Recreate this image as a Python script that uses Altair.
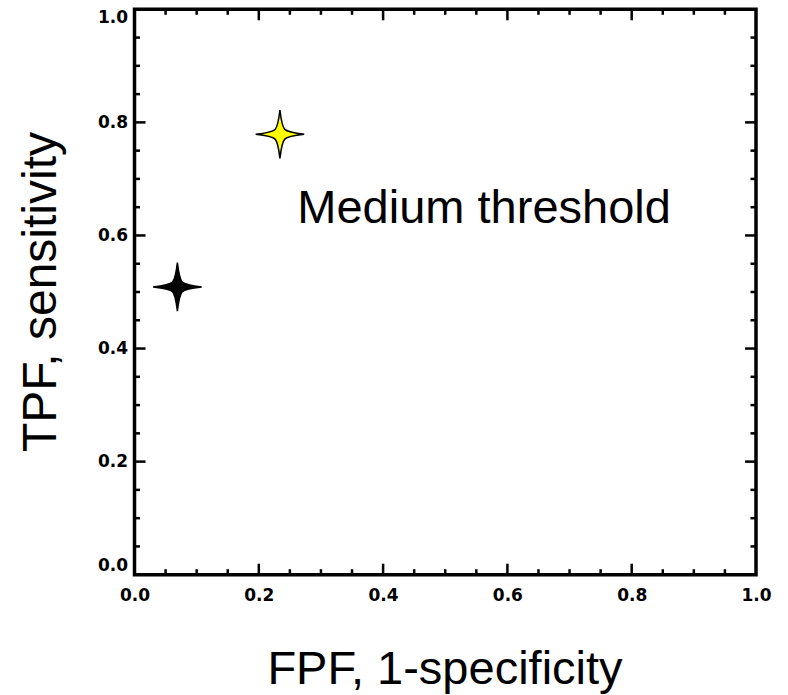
import altair as alt
import pandas as pd

# ---- data ----
fpf = [0.069, 0.234]
tpf = [0.509, 0.779]
groups = ["low", "medium"]
star_colors = ["black", "#ffff00"]

label_text = ["Medium threshold"]
label_x = [0.262]
label_y = [0.6215]

major_ticks = [0.0, 0.2, 0.4, 0.6, 0.8, 1.0]
minor_ticks = [0.05, 0.1, 0.15, 0.25, 0.3, 0.35, 0.45, 0.5, 0.55,
               0.65, 0.7, 0.75, 0.85, 0.9, 0.95]

W, H = 621.5, 565.4
MAJ, MIN = 11, 5.5

pts = pd.DataFrame({"fpf": fpf, "tpf": tpf, "g": groups})
lab = pd.DataFrame({"fpf": label_x, "tpf": label_y, "t": label_text})
maj = pd.DataFrame({"fpf": major_ticks[1:-1], "tpf": major_ticks[1:-1]})
mnr = pd.DataFrame({"fpf": minor_ticks, "tpf": minor_ticks})

xs = alt.Scale(domain=[0, 1], nice=False)
ys = alt.Scale(domain=[0, 1], nice=False)

star = ("M0,-1 Q0.08,-0.32 0.2,-0.2 Q0.32,-0.08 1,0 "
        "Q0.32,0.08 0.2,0.2 Q0.08,0.32 0,1 "
        "Q-0.08,0.32 -0.2,0.2 Q-0.32,0.08 -1,0 "
        "Q-0.32,-0.08 -0.2,-0.2 Q-0.08,-0.32 0,-1 Z")

x_axis = alt.Axis(
    values=major_ticks, format=".1f", ticks=False, domain=False, grid=False,
    labelFont="DejaVu Sans", labelFontWeight="bold", labelFontSize=17,
    labelColor="black", labelPadding=13, labelFlush=False, labelOverlap=False,
    tickSize=0,
    title="FPF, 1-specificity", titleFont="Liberation Sans", titleFontSize=47,
    titleFontWeight="normal", titleColor="black", titleX=310, titleY=108.3,
    titleBaseline="alphabetic", titleAlign="center")

y_axis = alt.Axis(
    values=major_ticks, format=".1f", ticks=False, domain=False, grid=False,
    labelFont="DejaVu Sans", labelFontWeight="bold", labelFontSize=17,
    labelColor="black", labelPadding=7, labelFlush=True, labelOverlap=False,
    tickSize=0,
    title="TPF, sensitivity", titleFont="Liberation Sans", titleFontSize=48,
    titleFontWeight="normal", titleColor="black", titleAngle=270,
    titleX=-79.5, titleY=282.2, titleBaseline="alphabetic", titleAlign="center")

X = alt.X("fpf:Q", scale=xs, axis=x_axis)
Y = alt.Y("tpf:Q", scale=ys, axis=y_axis)

points = alt.Chart(pts).mark_point(
    shape=star, filled=True, size=2350, stroke="black", strokeWidth=1.5,
    opacity=1
).encode(
    x=X, y=Y,
    fill=alt.Fill("g:N", scale=alt.Scale(domain=groups, range=star_colors),
                  legend=None),
)

text = alt.Chart(lab).mark_text(
    align="left", baseline="alphabetic", font="Liberation Sans",
    fontSize=47, color="black"
).encode(x=X, y=Y, text="t:N")


def xticks(df, L):
    base = alt.Chart(df).mark_rule(color="black", strokeWidth=2.5)
    bottom = base.encode(x=X, y=alt.value(H), y2=alt.value(H - L))
    top = base.encode(x=X, y=alt.value(0), y2=alt.value(L))
    return [bottom, top]


def yticks(df, L):
    base = alt.Chart(df).mark_rule(color="black", strokeWidth=2.5)
    left = base.encode(y=Y, x=alt.value(0), x2=alt.value(L))
    right = base.encode(y=Y, x=alt.value(W), x2=alt.value(W - L))
    return [left, right]


layers = (xticks(maj, MAJ) + xticks(mnr, MIN) + yticks(maj, MAJ)
          + yticks(mnr, MIN) + [points, text])

chart = alt.layer(*layers).properties(
    width=W, height=H,
    padding={"left": 134.5, "top": 9.3, "right": 32, "bottom": 120.3},
    autosize=alt.AutoSizeParams(type="none"),
    background="white",
).configure_view(stroke="black", strokeWidth=3.5)

chart.save("out.html", embed_options={"renderer": "svg", "actions": False})
